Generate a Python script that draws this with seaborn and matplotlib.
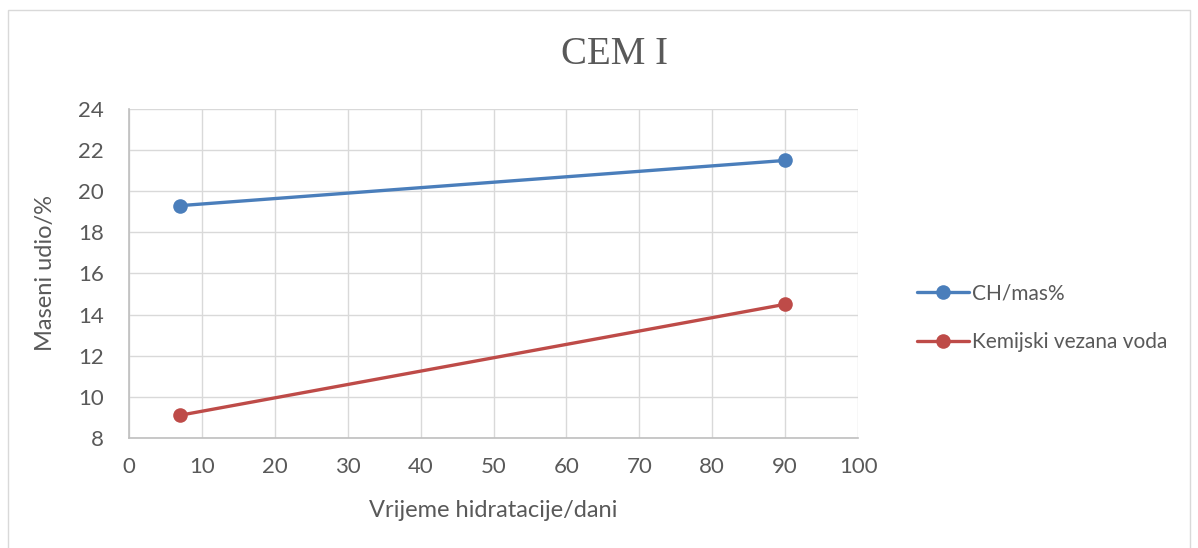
import pandas as pd
import matplotlib.pyplot as plt
import seaborn as sns
from matplotlib.patches import Rectangle

# podaci očitani s grafa
dani = [7, 90]
ch_mas = [19.3, 21.5]
vezana_voda = [9.1, 14.5]
serije = ["CH/mas%", "Kemijski vezana voda"]
boje = ["#4a7ebb", "#be4b48"]

df = pd.DataFrame({
    "dani": dani * 2,
    "vrijednost": ch_mas + vezana_voda,
    "serija": [serije[0]] * len(dani) + [serije[1]] * len(dani),
})

sns.set_style("white")
plt.rcParams["font.family"] = ["Lato", "DejaVu Sans"]

fig = plt.figure(figsize=(11.98, 5.48), dpi=100)
ax = fig.add_axes([0.1077, 0.201, 0.6086, 0.600])

sns.lineplot(
    data=df, x="dani", y="vrijednost", hue="serija",
    palette=boje, marker="o", markersize=10.5, linewidth=2.4,
    markeredgewidth=0, ax=ax, zorder=3
)

ax.set_xlim(0, 100)
ax.set_ylim(8, 24)
ax.set_xticks(range(0, 101, 10))
ax.set_yticks(range(8, 25, 2))
ax.grid(True, color="#d9d9d9", linewidth=1)
for s in ["top", "right"]:
    ax.spines[s].set_visible(False)
for s in ["left", "bottom"]:
    ax.spines[s].set_color("#bfbfbf")
    ax.spines[s].set_linewidth(1.2)
ax.tick_params(axis="x", length=0, labelsize=16, colors="#595959", pad=14)
ax.tick_params(axis="y", length=0, labelsize=16, colors="#595959", pad=18)

ax.set_xlabel("Vrijeme hidratacije/dani", fontsize=17, color="#595959", labelpad=16)
ax.set_ylabel("Maseni udio/%", fontsize=17, color="#595959", labelpad=16)

fig.text(0.513, 0.90, "CEM I", fontsize=28, color="#595959",
         family="Liberation Serif", ha="center", va="center")

leg = ax.legend(loc="center left", bbox_to_anchor=(1.055, 0.365), frameon=False,
                fontsize=15, labelspacing=1.4, handlelength=2.5,
                handletextpad=0.15)
for t in leg.get_texts():
    t.set_color("#595959")

fig.patches.append(Rectangle((0.007, -0.01), 0.986, 0.992, transform=fig.transFigure,
                             fill=False, edgecolor="#d9d9d9", linewidth=1))

fig.savefig("out.png", dpi=100)
